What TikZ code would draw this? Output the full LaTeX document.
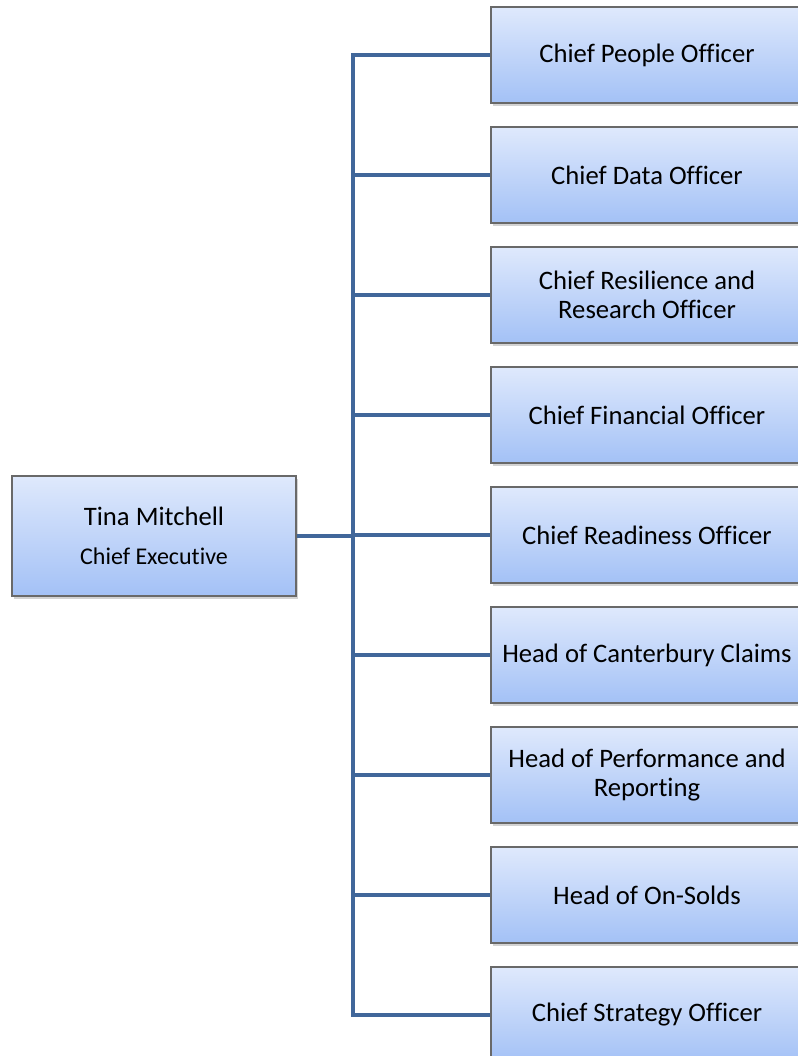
\documentclass[tikz,border=0pt]{standalone}
\usepackage{fontspec}
\setmainfont{Carlito}[Ligatures=NoCommon]
\usetikzlibrary{shadows}

\definecolor{linkblue}{RGB}{65,103,154}
\definecolor{boxtop}{RGB}{223,233,252}
\definecolor{boxbottom}{RGB}{163,193,246}
\definecolor{boxline}{RGB}{105,105,105}

\tikzset{
  orgbox/.style={draw=boxline, line width=0.8pt, top color=boxtop, bottom color=boxbottom,
    align=center, inner sep=0pt, font=\fontsize{20}{22}\selectfont,
    drop shadow={shadow xshift=1.5pt, shadow yshift=-2pt, opacity=0.35}},
  rolebox/.style={orgbox, minimum width=234pt, minimum height=72pt},
  headbox/.style={orgbox, minimum width=213pt, minimum height=90pt},
  link/.style={draw=linkblue, line width=3pt}
}

\begin{document}
\begin{tikzpicture}[x=0.75pt, y=-0.75pt]
\useasboundingbox (0,0) rectangle (798,1056);

%chief executive
\node [headbox] (ceo) at (154,536) {Tina Mitchell\\[7pt]{\fontsize{18}{20}\selectfont Chief Executive}};

%reporting roles
\foreach \i/\role in {1/Chief People Officer,
                      2/Chief Data Officer,
                      3/{Chief Resilience and\\Research Officer},
                      4/Chief Financial Officer,
                      5/Chief Readiness Officer,
                      6/Head of Canterbury Claims,
                      7/{Head of Performance and\\Reporting},
                      8/Head of On-Solds,
                      9/Chief Strategy Officer}
{
  \node [rolebox] (r\i) at (647,{55+120*(\i-1)}) {\role};
  \coordinate (t\i) at (353,{55+120*(\i-1)});
  \draw [link] (t\i) -- (r\i.west);
}

%trunk of the chart
\draw [link, line cap=rect] (t1) -- (t9);
\coordinate (tm) at (ceo.east -| t1);
\draw [link] (ceo.east) -- (tm);

\end{tikzpicture}
\end{document}
